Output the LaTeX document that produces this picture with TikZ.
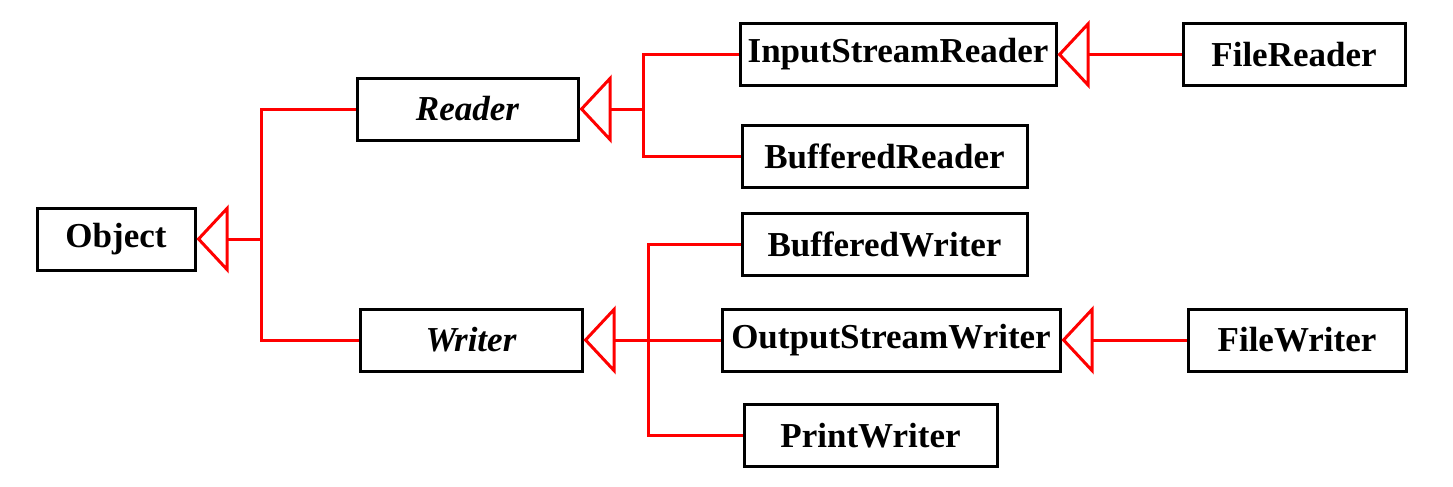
\documentclass[tikz,border=0pt]{standalone}
\usepackage{fontspec}
\setmainfont{Liberation Serif}
\usetikzlibrary{arrows.meta}

\begin{document}
\begin{tikzpicture}[
    x=0.5pt, y=-0.5pt, % one unit is one pixel of the reference
    classbox/.style={
        draw, % black border round every class
        line width=1.5pt,
        minimum height=31pt,
        inner sep=0pt,
        font=\fontsize{17.5}{20}\selectfont\bfseries
    },
    abstractbox/.style={classbox, font=\fontsize{17.5}{20}\selectfont\bfseries\itshape},
    redline/.style={draw=red, line width=1.5pt},
    extends/.style={redline, -{Triangle[open, length=16pt, width=34pt]}}
]
\useasboundingbox (0,0) rectangle (1453,487);

% classes
\node[classbox, minimum width=79pt] (object) at (116,239) {Object};
\node[abstractbox, minimum width=110.5pt] (reader) at (467.5,109) {Reader};
\node[abstractbox, minimum width=111pt] (writer) at (471,340) {Writer};
\node[classbox, minimum width=158pt] (isreader) at (898,54.5) {InputStreamReader};
\node[classbox, minimum width=111pt] (filereader) at (1294,54.5) {FileReader};
\node[classbox, minimum width=142.5pt] (bufreader) at (884.5,156) {BufferedReader};
\node[classbox, minimum width=142.5pt] (bufwriter) at (884.5,244) {BufferedWriter};
\node[classbox, minimum width=169pt] (oswriter) at (891,340) {OutputStreamWriter};
\node[classbox, minimum width=109pt] (filewriter) at (1297,340) {FileWriter};
\node[classbox, minimum width=126.5pt] (printwriter) at (870.5,435.5) {PrintWriter};

% bus points
\coordinate (objbus) at (261,239);
\coordinate (rdbus) at (643,109);
\coordinate (wrbus) at (648,340);

% inheritance
\draw[extends] (objbus) -- (object.east);
\draw[redline] (reader.west) -| (objbus) |- (writer.west);

\draw[extends] (rdbus) -- (reader.east);
\draw[redline] (isreader.west) -| (rdbus) |- (bufreader.west);

\draw[extends] (oswriter.west) -- (writer.east);
\draw[redline] (bufwriter.west) -| (wrbus) |- (printwriter.west);

\draw[extends] (filereader) -- (isreader);
\draw[extends] (filewriter) -- (oswriter);
\end{tikzpicture}
\end{document}
